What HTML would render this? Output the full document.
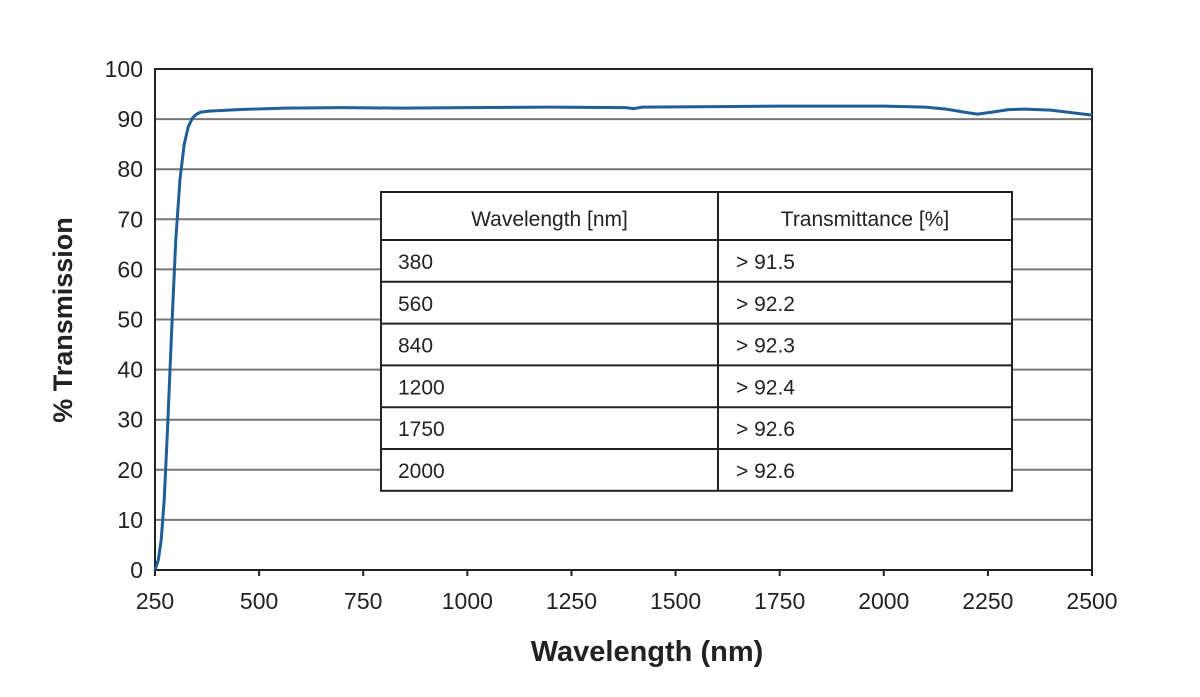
<!DOCTYPE html>
<html><head><meta charset="utf-8"><style>
body{margin:0;background:#fff;width:1200px;height:692px;overflow:hidden;font-family:"Liberation Sans",sans-serif}
</style></head><body>
<svg id="chart" width="1200" height="692" xmlns="http://www.w3.org/2000/svg">
<g id="grid"></g>
<g id="yticks"></g>
<g id="xticks"></g>
<rect x="155" y="69" width="937" height="501" fill="none" stroke="#222" stroke-width="2"/>
<path id="curve" fill="none" stroke="#1f5f96" stroke-width="3" stroke-linejoin="round"/>
<text transform="translate(72,320) rotate(-90)" text-anchor="middle" font-size="27" font-weight="bold" fill="#222">% Transmission</text>
<text x="647" y="661" text-anchor="middle" font-size="29" font-weight="bold" fill="#222">Wavelength (nm)</text>
<g id="table" font-size="21" fill="#222"></g>
</svg>
<script>
const xTicks=[250,500,750,1000,1250,1500,1750,2000,2250,2500];
const yTicks=[0,10,20,30,40,50,60,70,80,90,100];
const wavelengths=[250,258,265,272,280,290,300,310,320,330,340,350,360,380,450,560,700,840,1000,1200,1380,1400,1420,1600,1750,2000,2100,2150,2200,2225,2260,2300,2340,2400,2450,2500];
const transmission=[0,2,6,14,28,48,66,78,85,88.5,90.2,91,91.4,91.6,91.9,92.2,92.3,92.2,92.3,92.4,92.3,92.1,92.4,92.5,92.6,92.6,92.4,92,91.3,91,91.4,91.9,92,91.8,91.3,90.8];
const tableHeader=["Wavelength [nm]","Transmittance [%]"];
const tableWl=["380","560","840","1200","1750","2000"];
const tableTr=["> 91.5","> 92.2","> 92.3","> 92.4","> 92.6","> 92.6"];
const NS="http://www.w3.org/2000/svg";
const X0=155,X1=1092,Y0=570,Y1=69;
const xs=v=>X0+(v-250)/(2500-250)*(X1-X0);
const ys=v=>Y0-v/100*(Y0-Y1);
function mk(tag,attrs,parent){const e=document.createElementNS(NS,tag);for(const k in attrs)e.setAttribute(k,attrs[k]);parent.appendChild(e);return e;}
const grid=document.getElementById('grid'),yt=document.getElementById('yticks'),xt=document.getElementById('xticks');
yTicks.forEach(v=>{
  if(v>0&&v<100){const l=mk('line',{x1:X0,x2:X1,y1:ys(v),y2:ys(v),stroke:'#777','stroke-width':2},grid);
  
  }
  const t=mk('text',{x:143,y:ys(v)+8,'text-anchor':'end','font-size':23,fill:'#222'},yt);t.textContent=v;
  
  
});
xTicks.forEach(v=>{
  const l=mk('line',{x1:xs(v),x2:xs(v),y1:Y0,y2:Y0+6,stroke:'#222','stroke-width':2},xt);
  
  
  const t=mk('text',{x:xs(v),y:609,'text-anchor':'middle','font-size':23,fill:'#222'},xt);t.textContent=v;
  
  
});
document.getElementById('curve').setAttribute('d',wavelengths.map((w,i)=>(i?'L':'M')+xs(w).toFixed(1)+','+ys(transmission[i]).toFixed(1)).join(' '));
// table
const tb=document.getElementById('table');
const TX0=381,TX1=1012,TXM=718,TY0=192,HY=240,RH=41.8;
const bg=mk('rect',{x:TX0,y:TY0,width:TX1-TX0,height:HY-TY0+RH*tableWl.length,fill:'#fff',stroke:'#222','stroke-width':2},tb);


mk('line',{x1:TXM,x2:TXM,y1:TY0,y2:HY+RH*tableWl.length,stroke:'#222','stroke-width':2},tb);
const h1=mk('text',{x:(TX0+TXM)/2,y:226,'text-anchor':'middle'},tb);h1.textContent=tableHeader[0];


const h2=mk('text',{x:(TXM+TX1)/2,y:226,'text-anchor':'middle'},tb);h2.textContent=tableHeader[1];


tableWl.forEach((w,i)=>{
  const y=HY+RH*i;
  mk('line',{x1:TX0,x2:TX1,y1:y,y2:y,stroke:'#222','stroke-width':2},tb);
  const a=mk('text',{x:398,y:y+29},tb);a.textContent=w;
  
  
  const b=mk('text',{x:736,y:y+29},tb);b.textContent=tableTr[i];
  
  
});
</script>
</body></html>
